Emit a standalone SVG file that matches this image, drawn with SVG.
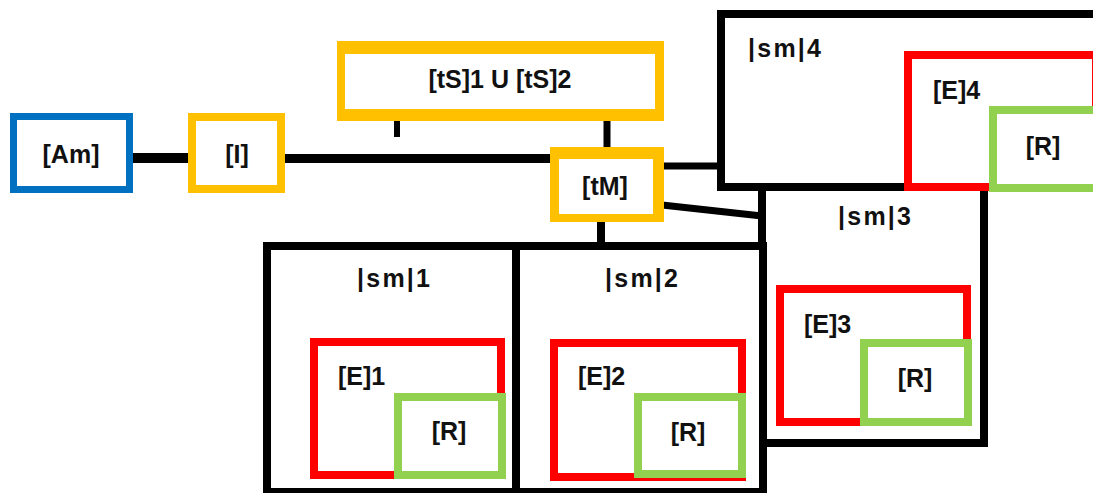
<svg xmlns="http://www.w3.org/2000/svg" width="1093" height="493" viewBox="0 0 1093 493">
<style>
text{font-family:"Liberation Sans",Arial,sans-serif;font-weight:bold;font-size:25px;fill:#111}
.c{text-anchor:middle}
.sm{fill:#fff;stroke:#000;stroke-width:8}
.e{fill:#fff;stroke:#FF0000;stroke-width:8}
.r{fill:#fff;stroke:#92D050;stroke-width:8}
.y{fill:#FFC000}
.w{fill:#fff}
.ln{stroke:#000;fill:none}
</style>
<rect width="1093" height="493" fill="#fff"/>
<g id="connectors">
<line class="ln" x1="129" y1="158" x2="190" y2="158" stroke-width="10"/>
<line class="ln" x1="283" y1="158.5" x2="552" y2="158.5" stroke-width="9"/>
<line class="ln" x1="397" y1="120" x2="397" y2="137" stroke-width="6"/>
<line class="ln" x1="607" y1="120" x2="607" y2="148" stroke-width="7"/>
<line class="ln" x1="662" y1="166" x2="722" y2="166" stroke-width="7"/>
<line class="ln" x1="662" y1="205" x2="762" y2="216" stroke-width="7"/>
<line class="ln" x1="601" y1="220" x2="601" y2="244" stroke-width="8"/>
</g>
<g id="sm3">
<rect class="sm" x="762" y="187" width="222" height="256"/>
<text x="838" y="225" textLength="73" lengthAdjust="spacing">|sm|3</text>
</g>
<g id="sm4">
<rect class="sm" x="721" y="14" width="390" height="173"/>
<text x="748" y="57" textLength="73" lengthAdjust="spacing">|sm|4</text>
</g>
<g id="E4">
<rect class="e" x="908" y="55" width="188" height="132"/>
<text x="933" y="99">[E]4</text>
</g>
<g id="R4">
<rect class="r" x="993" y="110" width="110" height="78"/>
<text class="c" x="1043" y="155">[R]</text>
</g>
<g id="E3">
<rect class="e" x="780" y="289" width="187" height="133"/>
<text x="804" y="333">[E]3</text>
</g>
<g id="R3">
<rect class="r" x="864" y="343" width="104" height="79"/>
<text class="c" x="915" y="387">[R]</text>
</g>
<g id="sm1">
<rect class="sm" x="267" y="246" width="249" height="246"/>
<text x="357" y="287" textLength="73" lengthAdjust="spacing">|sm|1</text>
</g>
<g id="sm2">
<rect class="sm" x="516" y="246" width="247" height="246"/>
<text x="605" y="287" textLength="73" lengthAdjust="spacing">|sm|2</text>
</g>
<g id="E1">
<rect class="e" x="314" y="342" width="187" height="133"/>
<text x="338" y="385">[E]1</text>
</g>
<g id="R1">
<rect class="r" x="398" y="397" width="104" height="78"/>
<text class="c" x="449" y="440">[R]</text>
</g>
<g id="E2">
<rect class="e" x="554" y="343" width="188" height="134"/>
<text x="578" y="385">[E]2</text>
</g>
<g id="R2">
<rect class="r" x="638" y="397" width="104" height="77"/>
<text class="c" x="688" y="441">[R]</text>
</g>
<g id="Am">
<rect x="13.5" y="116.5" width="116" height="73" fill="#fff" stroke="#0070C0" stroke-width="7"/>
<text class="c" x="71" y="163">[Am]</text>
</g>
<g id="I">
<rect x="192" y="117" width="89" height="72" fill="#fff" stroke="#FFC000" stroke-width="8"/>
<text class="c" x="237" y="163">[I]</text>
</g>
<g id="tS">
<rect class="y" x="337" y="41" width="327" height="80"/>
<rect class="w" x="345" y="54" width="310" height="55"/>
<text class="c" x="500" y="88">[tS]1 U [tS]2</text>
</g>
<g id="tM">
<rect class="y" x="550" y="147" width="114" height="75"/>
<rect class="w" x="559" y="159" width="94" height="55"/>
<text class="c" x="605" y="195">[tM]</text>
</g>
</svg>
